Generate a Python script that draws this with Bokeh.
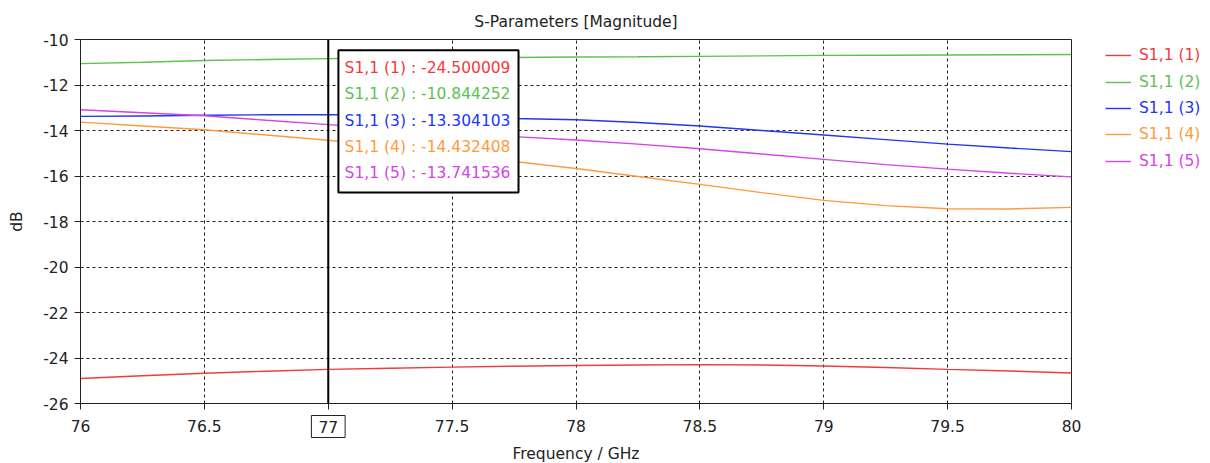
from bokeh.plotting import figure
from bokeh.layouts import row
from bokeh.models import (Legend, LegendItem, Span, Label, BoxAnnotation,
                          FixedTicker, Range1d)
from bokeh.embed import file_html
from bokeh.resources import INLINE

freq = [76, 76.25, 76.5, 76.75, 77, 77.25, 77.5, 77.75, 78, 78.25, 78.5,
        78.75, 79, 79.25, 79.5, 79.75, 80]
s1 = [-24.90, -24.78, -24.67, -24.58, -24.50, -24.45, -24.40, -24.36, -24.33,
      -24.31, -24.29, -24.31, -24.35, -24.42, -24.50, -24.57, -24.66]
s2 = [-11.06, -11.00, -10.92, -10.88, -10.84, -10.82, -10.80, -10.79, -10.77,
      -10.76, -10.74, -10.72, -10.70, -10.69, -10.68, -10.67, -10.66]
s3 = [-13.38, -13.36, -13.33, -13.31, -13.30, -13.33, -13.40, -13.47, -13.53,
      -13.65, -13.80, -14.00, -14.20, -14.40, -14.60, -14.77, -14.93]
s4 = [-13.63, -13.80, -13.97, -14.20, -14.43, -14.74, -15.05, -15.36, -15.67,
      -16.02, -16.37, -16.73, -17.07, -17.30, -17.44, -17.45, -17.38]
s5 = [-13.09, -13.22, -13.35, -13.55, -13.74, -13.92, -14.10, -14.27, -14.42,
      -14.60, -14.80, -15.03, -15.27, -15.50, -15.70, -15.88, -16.04]
series = [s1, s2, s3, s4, s5]
names = ["S1,1 (1)", "S1,1 (2)", "S1,1 (3)", "S1,1 (4)", "S1,1 (5)"]
colors = ["#f23a3a", "#5cc24f", "#2136f5", "#ff9a3c", "#d444e8"]
marker_x = 77
marker_values = ["-24.500009", "-10.844252", "-13.304103", "-14.432408", "-13.741536"]
x_ticks = [76, 76.5, 77, 77.5, 78, 78.5, 79, 79.5, 80]
y_ticks = [-26, -24, -22, -20, -18, -16, -14, -12, -10]

FONT = "DejaVu Sans"
FS = "15.5px"
INK = "#222222"
LW = 1.4

p = figure(frame_width=991, frame_height=364, output_backend="svg",
           toolbar_location=None,
           x_range=Range1d(76, 80), y_range=Range1d(-26, -10),
           min_border_left=80, min_border_right=0, min_border_top=39,
           min_border_bottom=60, title="S-Parameters [Magnitude]")
p.title.align = "center"
p.title.text_font = FONT
p.title.text_font_size = FS
p.title.text_font_style = "normal"
p.title.text_color = INK
p.title.standoff = 18

p.outline_line_color = INK
p.outline_line_width = 1
p.outline_line_alpha = 1

for ax in (p.xaxis[0], p.yaxis[0]):
    ax.major_label_text_font = FONT
    ax.major_label_text_font_size = FS
    ax.major_label_text_color = INK
    ax.axis_label_text_font = FONT
    ax.axis_label_text_font_size = FS
    ax.axis_label_text_font_style = "normal"
    ax.axis_label_text_color = INK
    ax.axis_line_color = INK
    ax.major_tick_line_color = INK
    ax.minor_tick_line_color = None
    ax.major_tick_out = 6
    ax.major_tick_in = 0

p.xaxis.ticker = FixedTicker(ticks=x_ticks)
p.yaxis.ticker = FixedTicker(ticks=y_ticks)
x_over = {t: (f"{t:g}" if t != marker_x else " ") for t in x_ticks}
p.xaxis.major_label_overrides = x_over
p.yaxis.major_label_overrides = {t: f"{t:g}" for t in y_ticks}
p.xaxis.axis_label = "Frequency / GHz"
p.yaxis.axis_label = "dB"
p.xaxis.major_label_standoff = 8
p.xaxis.axis_label_standoff = 6
p.yaxis.major_label_standoff = 6
p.yaxis.axis_label_standoff = 14

for g in (p.xgrid[0], p.ygrid[0]):
    g.grid_line_color = INK
    g.grid_line_dash = "3 3"
    g.grid_line_width = 1
    g.grid_line_alpha = 1

for ys, c in zip(series, colors):
    p.line(freq, ys, line_color=c, line_width=LW)

# marker line
p.add_layout(Span(location=marker_x, dimension="height", line_color="black",
                  line_width=2))

# marker value box
p.add_layout(BoxAnnotation(left=marker_x + 0.041, right=marker_x + 0.768,
                           top=-10.47, bottom=-16.73, fill_color="white",
                           fill_alpha=1, line_color="black", line_alpha=1,
                           line_width=2, level="overlay"))
for i, (n, v, c) in enumerate(zip(names, marker_values, colors)):
    p.add_layout(Label(x=marker_x + 0.066, y=-11.25 - i * 1.159,
                       text=f"{n} : {v}", text_color=c, text_font=FONT,
                       text_font_size=FS, text_baseline="middle",
                       level="overlay"))

# boxed marker tick label, placed in a side panel so it is not clipped
p.add_layout(Label(x=marker_x, y=-23, x_units="data", y_units="screen",
                   text=str(marker_x), text_align="center",
                   text_baseline="middle", text_font=FONT, text_font_size=FS,
                   text_color=INK, border_line_color=INK, border_line_alpha=1,
                   background_fill_color="white", padding=(7, 5)), "right")

# legend panel (series drawn out of its view; only the legend shows)
leg = figure(frame_width=105, frame_height=364, output_backend="svg",
             toolbar_location=None, x_range=Range1d(0, 1), y_range=Range1d(0, 1),
             min_border_left=0, min_border_right=0, min_border_top=39,
             min_border_bottom=60, x_axis_type=None, y_axis_type=None)
leg.outline_line_color = None
leg.xgrid.visible = False
leg.ygrid.visible = False
row_centers = [55, 81.5, 108, 134.3, 160.5]
for n, c, yc, ys in zip(names, colors, row_centers, series):
    r = leg.line(freq, ys, line_color=c, line_width=LW)
    lg = Legend(items=[LegendItem(label=n, renderers=[r])],
                location=(0, 403 - yc - 10), orientation="vertical",
                border_line_alpha=0, background_fill_alpha=0,
                label_text_color=c, label_text_font=FONT,
                label_text_font_size=FS, glyph_width=26, glyph_height=20,
                label_height=20, label_standoff=8, padding=0, margin=0,
                spacing=0, label_text_baseline="middle")
    leg.add_layout(lg, "center")

layout = row(p, leg, spacing=0)
open("out.html", "w").write(file_html(layout, INLINE))
